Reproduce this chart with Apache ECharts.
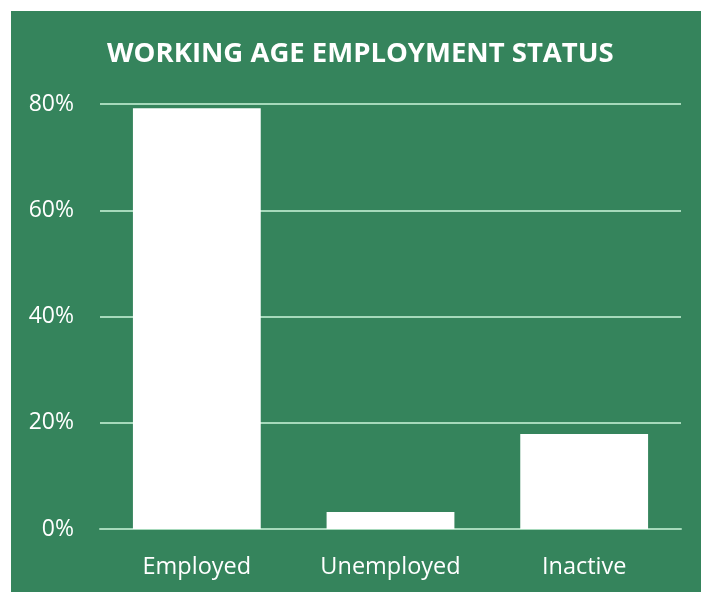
<!DOCTYPE html>
<html><head><meta charset="utf-8">
<script src="https://cdn.jsdelivr.net/npm/echarts@6/dist/echarts.min.js"></script>
<style>
html,body{margin:0;padding:0;background:#fff;width:701px;height:592px;overflow:hidden}
#c{position:absolute;left:11px;top:11px;width:690px;height:581px;background:#35845c}
</style></head><body>
<div id="c"></div>
<script>
const titleText = 'WORKING AGE EMPLOYMENT STATUS';
const categories = ['Employed', 'Unemployed', 'Inactive'];
const values = [79.2, 3.2, 17.9];
const yTicks = [0, 20, 40, 60, 80];

const chart = echarts.init(document.getElementById('c'));
chart.setOption({
  backgroundColor: '#35845c',
  title: {
    text: titleText, left: 96, top: 24, padding: [5, 0, 5, 0],
    textStyle: {color: '#fff', fontFamily: 'Open Sans', fontWeight: 'bold', fontSize: 27.5}
  },
  grid: {left: 89, right: 20, top: 93, bottom: 63},
  xAxis: {
    type: 'category', data: categories,
    axisLine: {show: true, lineStyle: {color: '#a6d9bb', width: 2}},
    axisTick: {show: false},
    axisLabel: {color: '#fff', fontFamily: 'Open Sans', fontSize: 23.5, margin: 26}
  },
  yAxis: {
    type: 'value', min: yTicks[0], max: yTicks[yTicks.length-1], interval: 20,
    axisLine: {show: false}, axisTick: {show: false},
    splitLine: {lineStyle: {color: '#a6d9bb', width: 2}},
    axisLabel: {color: '#fff', fontFamily: 'Open Sans', fontSize: 23, margin: 26, formatter: v => v + '%'}
  },
  series: [{
    type: 'bar', data: values, barWidth: '66%',
    itemStyle: {color: '#ffffff'}, animation: false
  }],
  animation: false
});
</script>
</body></html>
